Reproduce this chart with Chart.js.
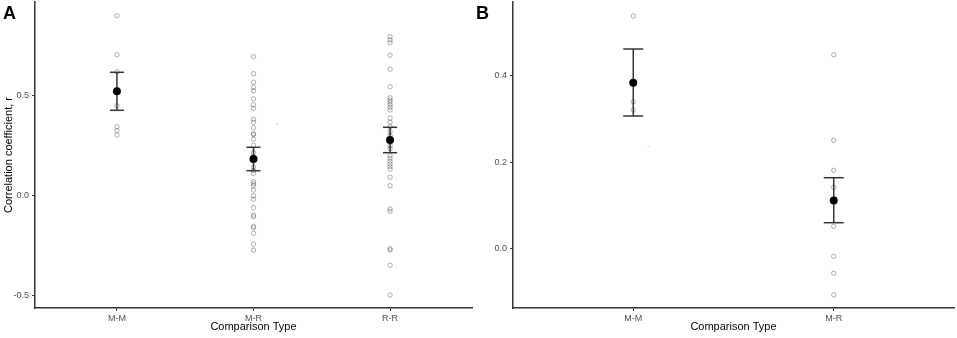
<!DOCTYPE html>
<html>
<head>
<meta charset="utf-8">
<script src="https://cdn.jsdelivr.net/npm/chart.js@4"></script>
<style>
  html, body { margin: 0; padding: 0; background: #fff; }
  #wrap { position: relative; width: 957px; height: 338px; overflow: hidden; }
  canvas { position: absolute; top: 0; }
  .tag { position: absolute; top: 3px; font: bold 18px "Liberation Sans", Arial, sans-serif; color: #000; }
</style>
</head>
<body>
<div id="wrap">
  <canvas id="panelA" width="478" height="338" style="left:0"></canvas>
  <canvas id="panelB" width="479" height="338" style="left:478px"></canvas>
  <div class="tag" style="left:3px">A</div>
  <div class="tag" style="left:476px">B</div>
</div>
<script>
// panel A: all comparisons
const categoriesA = ["M-M", "M-R", "R-R"];
const rA_MM = [0.90, 0.705, 0.62, 0.45, 0.345, 0.325, 0.303];
const rA_MR = [0.695, 0.61, 0.567, 0.542, 0.524, 0.484, 0.455, 0.437, 0.382, 0.367, 0.34, 0.31, 0.305,
  0.282, 0.252, 0.215, 0.195, 0.143, 0.125, 0.112, 0.07, 0.06, 0.05, 0.028, 0.0, -0.018, -0.06,
  -0.097, -0.105, -0.153, -0.16, -0.188, -0.242, -0.272];
const rA_RR = [0.795, 0.7785, 0.765, 0.702, 0.632, 0.545, 0.49, 0.4785, 0.4685, 0.455, 0.442, 0.4285,
  0.3885, 0.367, 0.345, 0.32, 0.30, 0.25, 0.235, 0.20, 0.187, 0.172, 0.1585, 0.145, 0.132, 0.092,
  0.05, -0.0665, -0.078, -0.265, -0.2715, -0.348, -0.4965];
const meanA = [0.522, 0.1835, 0.2785];
const lowA = [0.427, 0.125, 0.215];
const highA = [0.617, 0.242, 0.342];
const strayA = [{x: 2.175, y: 0.358}];
const yTicksA = [-0.5, 0.0, 0.5];

// panel B
const categoriesB = ["M-M", "M-R"];
const rB_MM = [0.539, 0.34, 0.321];
const rB_MR = [0.449, 0.2506, 0.181, 0.1415, 0.051, -0.0186, -0.058, -0.108];
const meanB = [0.384, 0.111];
const lowB = [0.307, 0.0594];
const highB = [0.4624, 0.1638];
const strayB = [{x: 1.075, y: 0.236}];
const yTicksB = [0.0, 0.2, 0.4];

const FONT = '"Liberation Sans", Arial, sans-serif';

function noPad(s) {
    s.paddingTop = 0; s.paddingBottom = 0; s.paddingLeft = 0; s.paddingRight = 0;
}

function makePanel(id, categories, groups, means, lows, highs, stray, yTicks, yMin, yMax, o) {
    let datasets = [];
    // mean dots on top
    datasets.push({
        data: means.map((m, i) => ({x: i + 1, y: m})),
        pointRadius: 4, pointBackgroundColor: '#000', pointBorderColor: '#000',
        pointBorderWidth: 0, showLine: false, order: 0
    });
    for (let i = 0; i < categories.length; i++) {
        datasets.push({
            data: [{x: i + 1, y: lows[i]}, {x: i + 1, y: highs[i]}],
            showLine: true, borderColor: '#333', borderWidth: 1.5,
            pointStyle: 'line', pointRadius: o.cap, pointBorderColor: '#333',
            pointBorderWidth: 1.5, order: 1
        });
    }
    let raw = [];
    groups.forEach((g, i) => g.forEach(v => raw.push({x: i + 1, y: v})));
    datasets.push({
        data: raw, pointRadius: 2.2, pointBorderWidth: 0.8,
        pointBorderColor: 'rgba(0,0,0,0.38)', pointBackgroundColor: 'rgba(0,0,0,0)',
        showLine: false, order: 2
    });
    datasets.push({
        data: stray, pointRadius: 1, pointBorderWidth: 0,
        pointBackgroundColor: 'rgba(0,0,0,0.12)', showLine: false, order: 3
    });

    return new Chart(document.getElementById(id), {
        type: 'scatter',
        data: {datasets: datasets},
        options: {
            responsive: false,
            animation: false,
            devicePixelRatio: 1,
            events: [],
            layout: {autoPadding: false, padding: {top: 2, right: o.padRight, left: 0, bottom: 0}},
            plugins: {legend: {display: false}, tooltip: {enabled: false}},
            scales: {
                x: {
                    type: 'linear',
                    min: 0.4, max: categories.length + 0.6,
                    afterBuildTicks: s => { s.ticks = categories.map((c, i) => ({value: i + 1})); },
                    afterFit: s => { s.height = 30; noPad(s); },
                    ticks: {
                        callback: v => categories[v - 1],
                        color: '#4d4d4d', font: {family: FONT, size: 9}, padding: 2,
                        maxRotation: 0
                    },
                    grid: {display: true, drawOnChartArea: false, drawTicks: true, tickLength: 3, color: '#333', lineWidth: 1},
                    border: {display: true, color: '#333', width: 1.5},
                    title: {display: true, text: 'Comparison Type', color: '#000',
                        font: {family: FONT, size: 11}, padding: {top: 0, bottom: 4}}
                },
                y: {
                    min: yMin, max: yMax,
                    afterBuildTicks: s => { s.ticks = yTicks.map(v => ({value: v})); },
                    afterFit: s => { s.width = 35; noPad(s); },
                    ticks: {
                        callback: v => v.toFixed(1),
                        color: '#4d4d4d', font: {family: FONT, size: 9}, padding: 3
                    },
                    grid: {display: true, drawOnChartArea: false, drawTicks: true, tickLength: 3, color: '#333', lineWidth: 1},
                    border: {display: true, color: '#333', width: 1.5},
                    title: {display: o.yTitle, text: 'Correlation coefficient, r', color: '#000',
                        font: {family: FONT, size: 11}, padding: {top: 2, bottom: 0}}
                }
            }
        }
    });
}

makePanel('panelA', categoriesA, [rA_MM, rA_MR, rA_RR], meanA, lowA, highA, strayA,
    yTicksA, -0.5615, 0.9685, {cap: 7, padRight: 6, yTitle: true});
makePanel('panelB', categoriesB, [rB_MM, rB_MR], meanB, lowB, highB, strayB,
    yTicksB, -0.1385, 0.5715, {cap: 10, padRight: 3, yTitle: false});
</script>
</body>
</html>
